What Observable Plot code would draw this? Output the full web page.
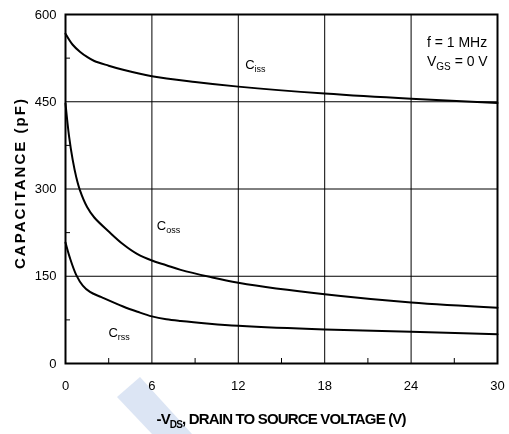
<!DOCTYPE html>
<html>
<head>
<meta charset="utf-8">
<script src="https://cdn.jsdelivr.net/npm/d3@7"></script>
<script src="https://cdn.jsdelivr.net/npm/@observablehq/plot@0.6"></script>
<style>
  body { margin: 0; background: #fff; }
  #chart { position: relative; width: 509px; height: 434px; }
  #chart .band {
    position: absolute; left: 0; top: 0; width: 509px; height: 434px;
    background: #dce5f4; mix-blend-mode: multiply; pointer-events: none;
    clip-path: polygon(140px 377px, 117px 397px, 152px 434px, 192px 434px);
  }
</style>
</head>
<body>
<div id="chart"><div class="band"></div></div>
<script>
// Capacitance vs. drain-to-source voltage (f = 1 MHz, VGS = 0 V)
const cissV  = [0, 0.5, 1, 1.5, 2, 3, 4, 6, 9, 12, 18, 24, 30];
const cissPF = [567, 548, 536, 527, 520, 512, 505, 494, 484, 476, 464, 455, 448];

const cossV  = [0, 0.25, 0.5, 0.75, 1, 1.5, 2, 3, 4, 5, 6, 7, 8, 10, 12, 18, 24, 30];
const cossPF = [447, 390, 350, 320, 298, 269, 251, 227, 205, 188, 177, 169, 161, 149, 139, 119, 105, 96];

const crssV  = [0, 0.3, 0.75, 1.2, 1.7, 2.5, 4, 5, 6, 7, 8, 10, 12, 18, 24, 30];
const crssPF = [208, 182, 152, 134, 123, 114, 98, 89, 81, 76, 73, 68.5, 65, 58.5, 54.5, 50.5];

const xTicks = [0, 6, 12, 18, 24, 30];
const xMinorTicks = [3, 9, 15, 21, 27];
const yTicks = [0, 150, 300, 450, 600];
const yMinorTicks = [75, 225, 375, 525];

// curve names; {..} marks a subscript
const curveLabelText = ["C{iss}", "C{oss}", "C{rss}"];
const curveLabelX = [12.48, 6.34, 2.98];
const curveLabelY = [514, 237, 52];

const noteText = ["f = 1 MHz", "V{GS} = 0 V"];
const noteX = [25.1, 25.1];
const noteY = [552, 520];

const xTitle = "-V{DS}, DRAIN TO SOURCE VOLTAGE (V)";
const yTitle = "CAPACITANCE (pF)";

const series = [
  {name: "Ciss", v: cissV, c: cissPF},
  {name: "Coss", v: cossV, c: cossPF},
  {name: "Crss", v: crssV, c: crssPF}
];
const rows = series.flatMap(s => s.v.map((v, i) => ({series: s.name, v, c: s.c[i]})));
const curveLabels = curveLabelText.map((t, i) => ({t, x: curveLabelX[i], y: curveLabelY[i]}));
const notes = noteText.map((t, i) => ({t, x: noteX[i], y: noteY[i]}));

const font = "'Liberation Sans', Arial, Helvetica, sans-serif";
const W = 509, H = 434;
const margin = {top: 14, right: 12, bottom: 71, left: 65};
const innerW = W - margin.left - margin.right;
const innerH = H - margin.top - margin.bottom;
const minorLen = 5;

const svg = Plot.plot({
  width: W,
  height: H,
  marginLeft: margin.left,
  marginRight: margin.right,
  marginTop: margin.top,
  marginBottom: margin.bottom,
  x: {domain: [0, 30]},
  y: {domain: [0, 600]},
  style: {fontFamily: font, fontSize: "13px", color: "#000", background: "transparent", overflow: "visible"},
  marks: [
    Plot.ruleX(xTicks.slice(1, -1), {stroke: "#000", strokeWidth: 1}),
    Plot.ruleY(yTicks.slice(1, -1), {stroke: "#000", strokeWidth: 1}),
    // short inward minor ticks along the bottom and left edges
    Plot.tickX(xMinorTicks, {x: d => d, insetTop: innerH - minorLen, stroke: "#000", strokeWidth: 1}),
    Plot.tickY(yMinorTicks, {y: d => d, insetRight: innerW - minorLen, stroke: "#000", strokeWidth: 1}),
    Plot.axisX(xTicks, {tickSize: 0, tickPadding: 17, label: null, fontSize: 13, fill: "#000"}),
    Plot.axisY(yTicks, {tickSize: 0, tickPadding: 9, label: null, fontSize: 13, fill: "#000"}),
    Plot.line(rows, {x: "v", y: "c", z: "series", curve: "catmull-rom", stroke: "#000", strokeWidth: 2}),
    Plot.frame({stroke: "#000", strokeWidth: 2}),
    Plot.text(curveLabels, {x: "x", y: "y", text: "t", textAnchor: "start", fontSize: 13, fill: "#000"}),
    Plot.text(notes, {x: "x", y: "y", text: "t", textAnchor: "start", fontSize: 14, fill: "#000"}),
    Plot.text([xTitle], {frameAnchor: "bottom", dy: 56, lineAnchor: "middle", textAnchor: "middle", fontSize: 15, fontWeight: "bold", fill: "#000"}),
    Plot.text([yTitle], {frameAnchor: "left", dx: -45, dy: -5, rotate: -90, textAnchor: "middle", lineAnchor: "middle", fontSize: 15, fontWeight: "bold", fill: "#000"})
  ]
});

document.getElementById("chart").prepend(svg);

// Render {..} segments as subscripts and fit the axis titles to their spans
d3.select(svg).selectAll("text").each(function() {
  const s = this.textContent;
  if (s.includes("{")) {
    const size = parseFloat(getComputedStyle(this).fontSize);
    const sub = Math.round(size * 0.68);
    const shift = Math.round(size * 0.25);
    const parts = s.split(/(\{[^}]*\})/).filter(p => p.length);
    this.textContent = "";
    let lowered = false;
    for (const p of parts) {
      const ts = document.createElementNS("http://www.w3.org/2000/svg", "tspan");
      if (p.startsWith("{")) {
        ts.textContent = p.slice(1, -1);
        ts.setAttribute("font-size", sub);
        ts.setAttribute("dy", shift);
        lowered = true;
      } else {
        ts.textContent = p;
        if (lowered) { ts.setAttribute("dy", -shift); lowered = false; }
      }
      this.appendChild(ts);
    }
  }
  if (s === yTitle) { this.setAttribute("textLength", 170); this.setAttribute("lengthAdjust", "spacing"); }
  if (s === xTitle) { this.setAttribute("textLength", 250); this.setAttribute("lengthAdjust", "spacing"); }
});
</script>
</body>
</html>
